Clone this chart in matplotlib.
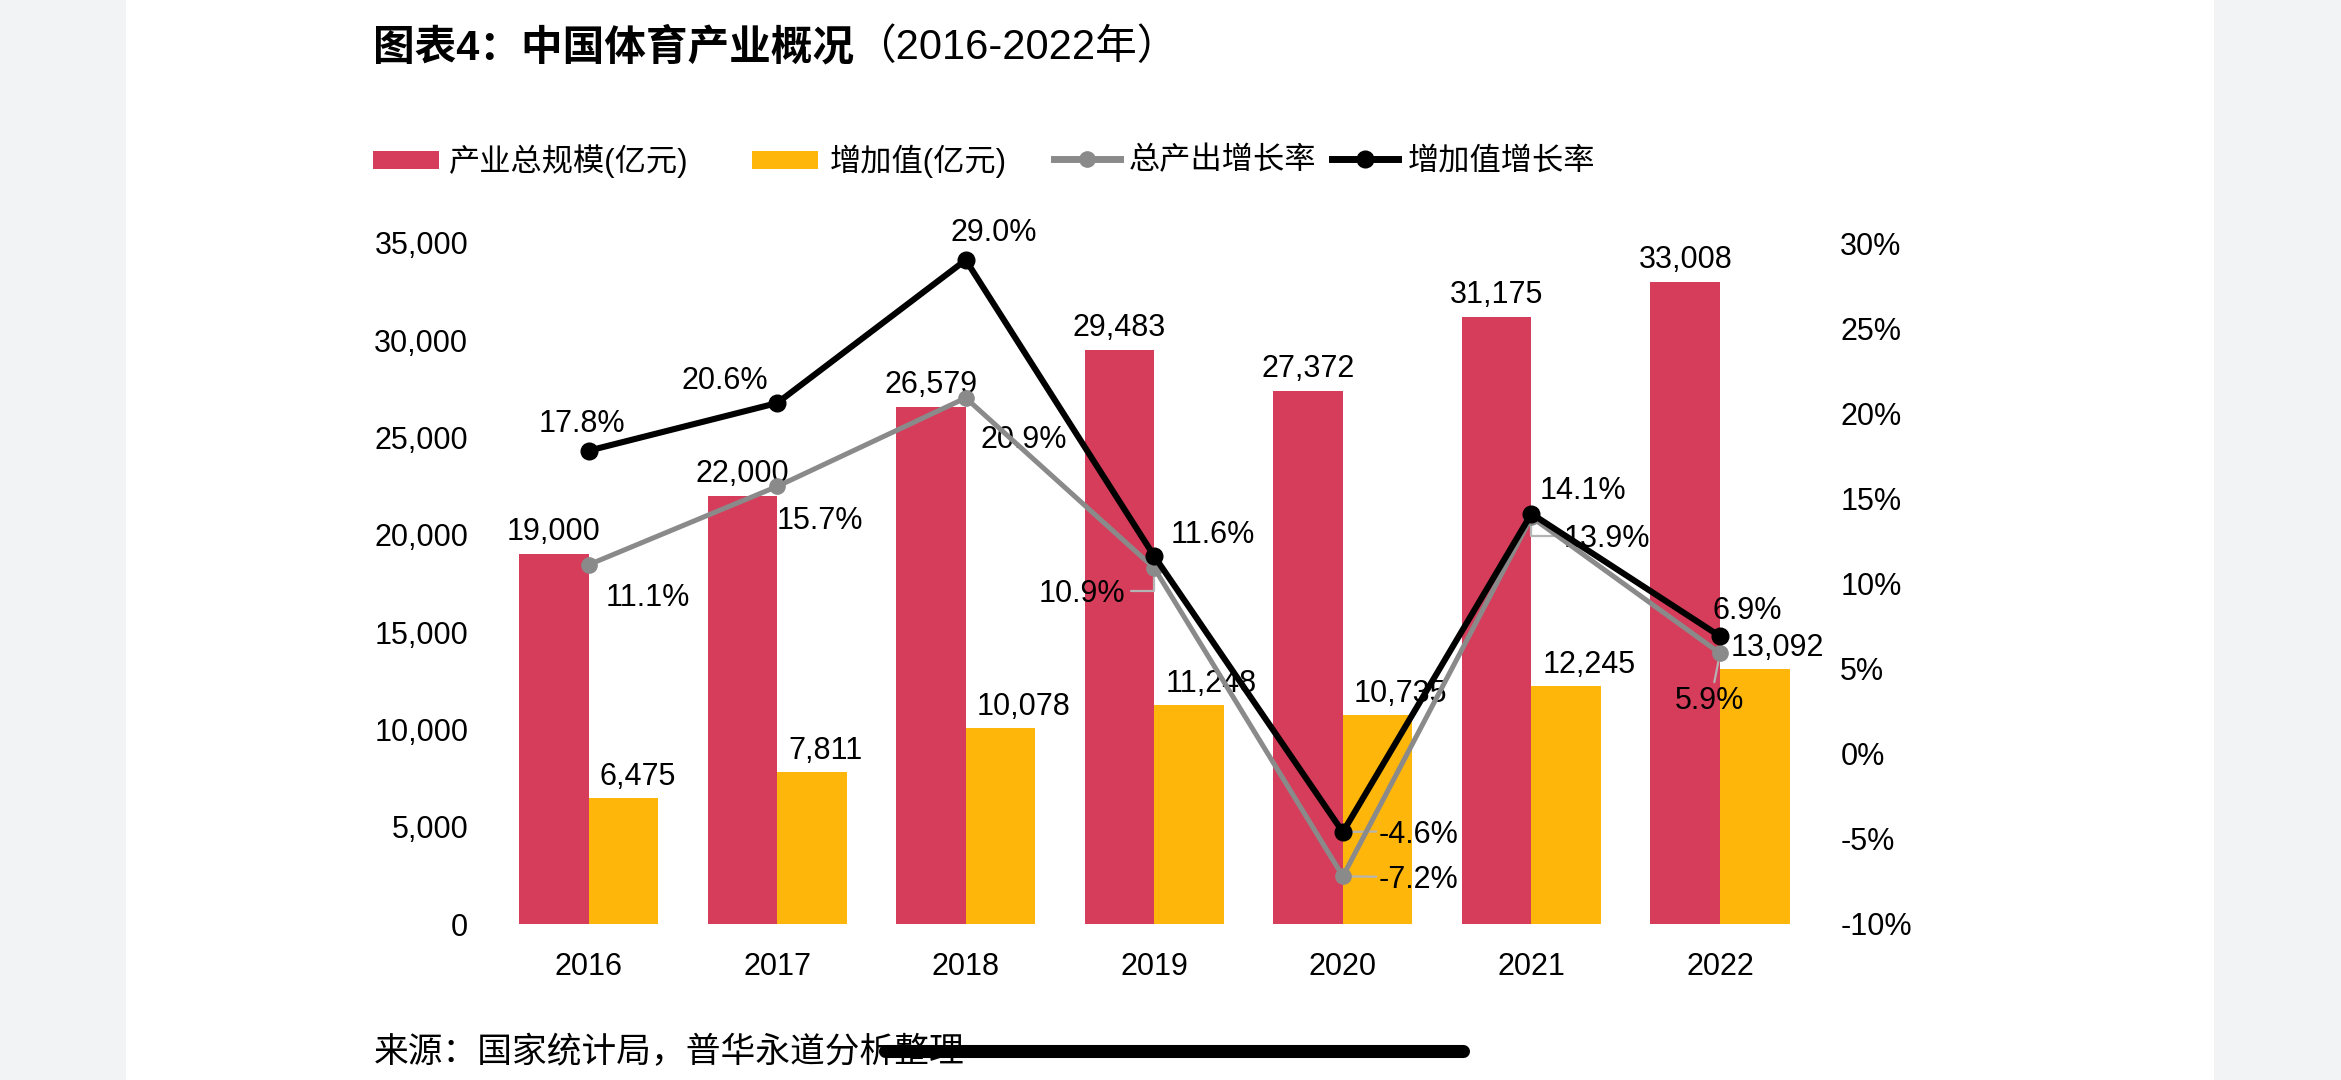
import matplotlib
matplotlib.use('Agg')
import matplotlib.pyplot as plt
import numpy as np
from matplotlib.lines import Line2D
from matplotlib.patches import Patch, Rectangle

plt.rcParams['font.family'] = ['Liberation Sans', 'Noto Sans CJK SC']

# ---------------- data ----------------
years = ['2016', '2017', '2018', '2019', '2020', '2021', '2022']
total_scale = [19000, 22000, 26579, 29483, 27372, 31175, 33008]      # 产业总规模(亿元)
value_added = [6475, 7811, 10078, 11248, 10735, 12245, 13092]        # 增加值(亿元)
output_growth = [11.1, 15.7, 20.9, 10.9, -7.2, 13.9, 5.9]            # 总产出增长率 %
va_growth = [17.8, 20.6, 29.0, 11.6, -4.6, 14.1, 6.9]                # 增加值增长率 %
left_ticks = [0, 5000, 10000, 15000, 20000, 25000, 30000, 35000]
left_ticklabels = ['0', '5,000', '10,000', '15,000', '20,000', '25,000', '30,000', '35,000']
right_ticks = [-10, -5, 0, 5, 10, 15, 20, 25, 30]
right_ticklabels = ['-10%', '-5%', '0%', '5%', '10%', '15%', '20%', '25%', '30%']
series_names = ['产业总规模(亿元)', '增加值(亿元)', '总产出增长率', '增加值增长率']
title_main = '图表4：中国体育产业概况'
title_sub = '（2016-2022年）'
source_text = '来源：国家统计局，普华永道分析整理'

# ---------------- style ----------------
RED = '#D63D5A'
YEL = '#FFB60B'
GRAY = '#8A8A8A'
BLACK = '#000000'
LEAD = '#B4B4B4'
W, H = 2341, 1080
FS = 22

fig = plt.figure(figsize=(W / 100, H / 100), dpi=100, facecolor='#F2F3F5')
fig.add_artist(Rectangle((126 / W, 0), (2214 - 126) / W, 1, transform=fig.transFigure,
                         facecolor='white', edgecolor='none', zorder=-5))

L, R, T, B = 494.3, 1814.3, 243, 924
ax = fig.add_axes([L / W, 1 - B / H, (R - L) / W, (B - T) / H])
ax.patch.set_visible(False)
x = np.arange(len(years))
bw = 0.369
ax.bar(x - bw / 2, total_scale, bw, color=RED, zorder=2)
ax.bar(x + bw / 2, value_added, bw, color=YEL, zorder=2)
ax.set_xlim(-0.5, len(years) - 0.5)
ax.set_ylim(left_ticks[0], left_ticks[-1])
ax.set_yticks(left_ticks)
ax.set_yticklabels(left_ticklabels)
ax.set_xticks(x)
ax.set_xticklabels(years)
ax.tick_params(axis='y', length=0, labelsize=FS, pad=18.7)
ax.tick_params(axis='x', length=0, labelsize=FS, pad=20)
for s in ax.spines.values():
    s.set_visible(False)

GLYPH = 11  # px from baseline to digit centre

def lab(a, xv, yv, text, dx, dy, ha='center', z=3, **kw):
    # dx, dy: offset of glyph centre in pixels (dy positive = up)
    return a.annotate(text, (xv, yv), xytext=(dx, dy - GLYPH), textcoords='offset pixels',
                      ha=ha, va='baseline', fontsize=FS, color='black', zorder=z, **kw)

for i in range(len(years)):
    lab(ax, x[i] - bw / 2, total_scale[i], f'{total_scale[i]:,}', 0, 25)
    lab(ax, x[i], value_added[i], f'{value_added[i]:,}', 11, 24, ha='left')

ax2 = ax.twinx()
ax2.set_ylim(right_ticks[0], right_ticks[-1])
ax2.set_yticks(right_ticks)
ax2.set_yticklabels(right_ticklabels)
ax2.tick_params(axis='y', length=0, labelsize=FS, pad=18.7)
for s in ax2.spines.values():
    s.set_visible(False)

ax2.plot(x, output_growth, color=GRAY, lw=3.6, marker='o', ms=11, zorder=5)
ax2.plot(x, va_growth, color=BLACK, lw=4.4, marker='o', ms=12, zorder=6)

va_off = [(-7, 30), (-52, 25), (28, 30), (59, 24), (76, 0), (51, 26), (27, 28)]
out_off = [(59, -30), (43, -32), (58, -39), (-72, -23), (76, -1), (75, -19), (-10, -45)]
for i in range(len(years)):
    dx, dy = va_off[i]
    kw = {}
    if i == 4:
        kw['arrowprops'] = dict(arrowstyle='-', color=LEAD, lw=1.6, shrinkA=0, shrinkB=5,
                                relpos=(0, 0.62))
    lab(ax2, x[i], va_growth[i], f'{va_growth[i]:.1f}%', dx, dy, z=3, **kw)
for i in range(len(years)):
    dx, dy = out_off[i]
    kw = {}
    if i == 3:
        kw['arrowprops'] = dict(arrowstyle='-', color=LEAD, lw=1.6, shrinkA=2, shrinkB=6,
                                relpos=(1, 0.62),
                                connectionstyle='angle,angleA=0,angleB=90,rad=0')
    elif i == 5:
        kw['arrowprops'] = dict(arrowstyle='-', color=LEAD, lw=1.6, shrinkA=2, shrinkB=6,
                                relpos=(0, 0.62),
                                connectionstyle='angle,angleA=0,angleB=90,rad=0')
    elif i == 4:
        kw['arrowprops'] = dict(arrowstyle='-', color=LEAD, lw=1.6, shrinkA=0, shrinkB=5,
                                relpos=(0, 0.62))
    elif i == 6:
        kw['arrowprops'] = dict(arrowstyle='-', color=LEAD, lw=1.6, shrinkA=1, shrinkB=6,
                                relpos=(0.55, 1.0))
    lab(ax2, x[i], output_growth[i], f'{output_growth[i]:.1f}%', dx, dy, z=3, **kw)

# ---------------- title ----------------
t1 = fig.text(373 / W, 1 - 48 / H, title_main, fontsize=30, fontweight='heavy',
              ha='left', va='center', color='black')
fig.texts.append(plt.Annotation(title_sub, xy=(1, 0.5), xycoords=t1, ha='left', va='center',
                                fontsize=30, color='black'))
fig.texts[-1].set_figure(fig)

# ---------------- legend ----------------
handles = [
    Patch(facecolor=RED, edgecolor='none'),
    Patch(facecolor=YEL, edgecolor='none'),
    Line2D([], [], color=GRAY, lw=5, marker='o', ms=11),
    Line2D([], [], color=BLACK, lw=5, marker='o', ms=12),
]
leg_x = [373, 752, 1054, 1332]
leg_pad = [0.32, 0.40, 0.28, 0.33]
for h, name, lx, tp in zip(handles, series_names, leg_x, leg_pad):
    fig.legend([h], [name], loc='center left', bbox_to_anchor=(lx / W, 1 - 161 / H),
               frameon=False, fontsize=22.5, borderpad=0, borderaxespad=0,
               handlelength=2.1, handleheight=0.5, handletextpad=tp)

# ---------------- source + indicator ----------------
fig.text(374 / W, 1 - 1052 / H, source_text, fontsize=25, ha='left', va='center',
         color='black')
fig.add_artist(Line2D([(878 + 6.5) / W, (1469 - 6.5) / W], [1 - 1051 / H, 1 - 1051 / H],
                      transform=fig.transFigure, color='black', lw=9.4,
                      solid_capstyle='round', zorder=10))

fig.savefig('out.png', dpi=100, facecolor=fig.get_facecolor())
